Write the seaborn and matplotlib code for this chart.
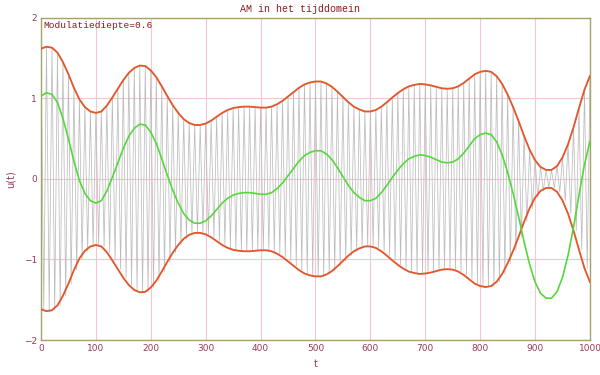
import numpy as np
import matplotlib
matplotlib.use("Agg")
import matplotlib.pyplot as plt
import seaborn as sns

# modulatiediepte (staat ook in de grafiek)
mod_depth = 0.6

# tijdstippen en modulerend signaal m(t) (stap 10)
t_vals = list(range(0, 1001, 10))
m_vals = [1.03, 1.07, 1.05, 0.95, 0.75, 0.50, 0.22, -0.02, -0.18, -0.27,
          -0.30, -0.27, -0.15, 0.02, 0.20, 0.38, 0.53, 0.63, 0.68, 0.67,
          0.58, 0.44, 0.25, 0.05, -0.14, -0.30, -0.43, -0.51, -0.55, -0.55,
          -0.52, -0.46, -0.38, -0.30, -0.24, -0.20, -0.18, -0.17, -0.17, -0.18,
          -0.19, -0.19, -0.17, -0.12, -0.05, 0.04, 0.13, 0.22, 0.29, 0.33,
          0.35, 0.35, 0.31, 0.24, 0.14, 0.03, -0.08, -0.17, -0.23, -0.27,
          -0.27, -0.24, -0.17, -0.08, 0.02, 0.11, 0.19, 0.25, 0.28, 0.30,
          0.29, 0.27, 0.24, 0.21, 0.20, 0.21, 0.25, 0.32, 0.41, 0.50,
          0.55, 0.57, 0.55, 0.46, 0.30, 0.08, -0.18, -0.47, -0.78, -1.06,
          -1.28, -1.42, -1.48, -1.48, -1.40, -1.22, -0.95, -0.60, -0.20, 0.18,
          0.47]

x_ticks = list(range(0, 1001, 100))
y_ticks = [-2, -1, 0, 1, 2]

t_arr = np.array(t_vals, dtype=float)
m_arr = np.array(m_vals)
env_up = 1 + mod_depth * m_arr
env_lo = -env_up

# draaggolf: zigzag tussen boven- en onderomhullende (periode 10)
car_t = np.column_stack([t_arr, t_arr + 5]).ravel()[:-1]
car_u = np.column_stack([env_up, env_lo]).ravel()[:-1]

sns.set_theme(style="white")
fig = plt.figure(figsize=(6, 3.75), dpi=100)
ax = fig.add_axes([0.0683, 0.0933, 0.915, 0.859])

grid_col = "#f5c6d0"
for xv in x_ticks:
    ax.axvline(xv, color=grid_col, lw=0.8, zorder=0)
for yv in y_ticks:
    ax.axhline(yv, color=grid_col, lw=0.8, zorder=0)

sns.lineplot(x=car_t, y=car_u, ax=ax, color="#bcbcbc", lw=0.55, sort=False,
             estimator=None, zorder=1)
sns.lineplot(x=t_arr, y=env_up, ax=ax, color="#e2582e", lw=1.35, estimator=None, zorder=3)
sns.lineplot(x=t_arr, y=env_lo, ax=ax, color="#e2582e", lw=1.35, estimator=None, zorder=3)
sns.lineplot(x=t_arr, y=m_arr, ax=ax, color="#55d83c", lw=1.2, estimator=None, zorder=4)

ax.set_xlim(0, 1000)
ax.set_ylim(-2, 2)
ax.set_xticks(x_ticks)
ax.set_yticks(y_ticks)
lab_col = "#9a3a55"
ax.tick_params(length=0, labelsize=6.5, labelcolor=lab_col, pad=3)
for s in ax.spines.values():
    s.set_color("#a6a36a")
    s.set_linewidth(1.0)

ax.set_xlabel("t", fontsize=7, color=lab_col, labelpad=4)
ax.set_ylabel("u(t)", fontsize=7, color=lab_col, labelpad=6)

fig.text(0.5, 0.988, "AM in het tijddomein", ha="center", va="top",
         family="Liberation Mono", fontsize=7.2, color="#8b1a1a")
ax.text(0.004, 0.99, "Modulatiediepte=0.6", transform=ax.transAxes, ha="left", va="top",
        family="Liberation Mono", fontsize=6.8, color="#8b1a1a", zorder=5)

fig.savefig("out.png", dpi=100)
